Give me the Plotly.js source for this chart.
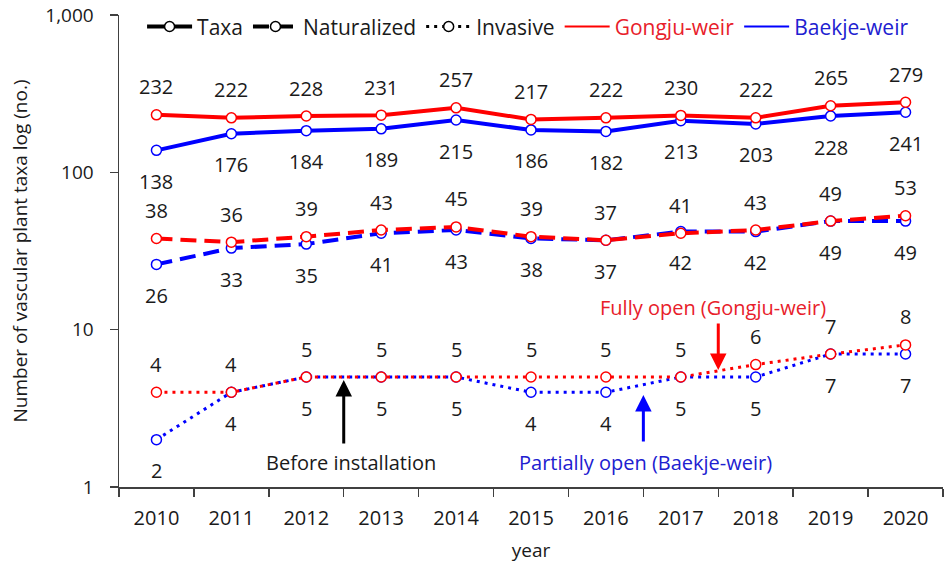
<!DOCTYPE html>
<html>
<head>
<meta charset="utf-8">
<script src="https://cdn.plot.ly/plotly-3.0.1.min.js"></script>
<style>html,body{margin:0;padding:0;background:#fff;}#chart{width:949px;height:569px;}</style>
</head>
<body>
<div id="chart"></div>
<script>
const years = ["2010","2011","2012","2013","2014","2015","2016","2017","2018","2019","2020"];
const gongjuTaxa = [232,222,228,231,257,217,222,230,222,265,279];
const baekjeTaxa = [138,176,184,189,215,186,182,213,203,228,241];
const gongjuNat  = [38,36,39,43,45,39,37,41,43,49,53];
const baekjeNat  = [26,33,35,41,43,38,37,42,42,49,49];
const gongjuInv  = [4,4,5,5,5,5,5,5,6,7,8];
const baekjeInv  = [2,4,5,5,5,4,4,5,5,7,7];
const yTickVals = [1,10,100,1000];
const yTickText = ["1","10","100","1,000"];

const RED = "#FF0000", BLUE = "#0000FF";
const FONT = "Open Sans, Segoe UI, sans-serif";
const TXT = "#1a1a1a";

function series(y, color, dash, width) {
  return {
    x: years, y: y, type: "scatter", mode: "lines+markers", showlegend: false,
    line: {color: color, width: width, dash: dash},
    marker: {symbol: "circle", size: 10, color: "#FFFFFF", line: {color: color, width: 1.5}},
    hoverinfo: "x+y"
  };
}
function legendItem(name, color, dash, width, withMarker) {
  return {
    x: [null], y: [null], type: "scatter", mode: withMarker ? "lines+markers" : "lines",
    name: name, showlegend: true,
    line: {color: color, width: width, dash: dash},
    marker: {symbol: "circle", size: 10, color: "#FFFFFF", line: {color: color, width: 1.5}}
  };
}

const DASH = "16px,8px", DOT = "3px,5px";
const data = [
  series(baekjeTaxa, BLUE, "solid", 4),
  series(gongjuTaxa, RED, "solid", 4),
  series(baekjeNat, BLUE, DASH, 4),
  series(gongjuNat, RED, DASH, 4),
  series(baekjeInv, BLUE, DOT, 3),
  series(gongjuInv, RED, DOT, 3),
  legendItem("Taxa", "#000000", "solid", 4, true),
  legendItem("Naturalized", "#000000", DASH, 4, true),
  legendItem("Invasive", "#000000", DOT, 3, true),
  legendItem('<span style="color:#E8202A">Gongju-weir</span>', RED, "solid", 2, false),
  legendItem('<span style="color:#2020D0">Baekje-weir</span>', BLUE, "solid", 2, false)
];

const annotations = [];
function addLabels(vals, shift) {
  vals.forEach((v, i) => {
    annotations.push({
      x: i, y: Math.log10(v), xref: "x", yref: "y", text: String(v),
      showarrow: false, yshift: shift,
      font: {family: FONT, size: 20, color: TXT}
    });
  });
}
addLabels(gongjuTaxa, 28);
addLabels(baekjeTaxa, -31);
addLabels(gongjuNat, 28);
addLabels(baekjeNat, -31);
addLabels(gongjuInv, 28);
addLabels(baekjeInv, -31);

// arrows
function arrow(x, yv, ay, color) {
  annotations.push({
    x: x, y: yv, xref: "x", yref: "y", text: "", showarrow: true,
    ax: 0, ay: ay, axref: "pixel", ayref: "pixel",
    arrowhead: 2, arrowsize: 1.1, arrowwidth: 3, arrowcolor: color
  });
}
arrow(2.5, 0.68, 65, "#000000");
arrow(6.5, 0.585, 48, BLUE);
arrow(7.5, 0.744, -48, RED);

annotations.push({x: 2.5, y: 0.153, xref: "x", yref: "y", xshift: 7, text: "Before installation",
  showarrow: false, font: {family: FONT, size: 20, color: TXT}});
annotations.push({x: 6.5, y: 0.153, xref: "x", yref: "y", xshift: 2, text: "Partially open (Baekje-weir)",
  showarrow: false, font: {family: FONT, size: 20, color: "#2020D0"}});
annotations.push({x: 7.5, y: 1.144, xref: "x", yref: "y", xshift: -5, text: "Fully open (Gongju-weir)",
  showarrow: false, font: {family: FONT, size: 20, color: "#E8202A"}});

const layout = {
  width: 949, height: 569,
  margin: {l: 119, r: 6, t: 15, b: 82},
  paper_bgcolor: "#FFFFFF", plot_bgcolor: "#FFFFFF",
  font: {family: FONT, size: 20, color: TXT},
  showlegend: true,
  legend: {
    orientation: "h", x: 0.028, xanchor: "left",
    y: 0.975, yanchor: "middle",
    bgcolor: "rgba(0,0,0,0)", font: {family: FONT, size: 21, color: TXT},
    itemwidth: 45, tracegroupgap: 0
  },
  xaxis: {
    type: "category", categoryorder: "array", categoryarray: years,
    range: [-0.5, 10.5], tickson: "boundaries",
    ticks: "outside", ticklen: 8, tickwidth: 1.5, tickcolor: "#404040",
    showline: true, linecolor: "#404040", linewidth: 1.5,
    showgrid: false, zeroline: false, ticklabelstandoff: 12,
    tickfont: {family: FONT, size: 20, color: TXT},
    title: {text: "year", font: {family: FONT, size: 19, color: TXT}, standoff: 14}
  },
  yaxis: {
    type: "log", range: [0, 3],
    tickvals: yTickVals, ticktext: yTickText,
    ticks: "outside", ticklen: 8, tickwidth: 1.5, tickcolor: "#404040",
    showline: true, linecolor: "#404040", linewidth: 1.5,
    showgrid: false, zeroline: false, ticklabelstandoff: 12,
    tickfont: {family: FONT, size: 19, color: TXT},
    title: {text: "Number of vascular plant taxa log (no.)", font: {family: FONT, size: 19, color: TXT}, standoff: 12}
  },
  annotations: annotations
};

Plotly.newPlot("chart", data, layout, {displayModeBar: false, staticPlot: true});
</script>
</body>
</html>
